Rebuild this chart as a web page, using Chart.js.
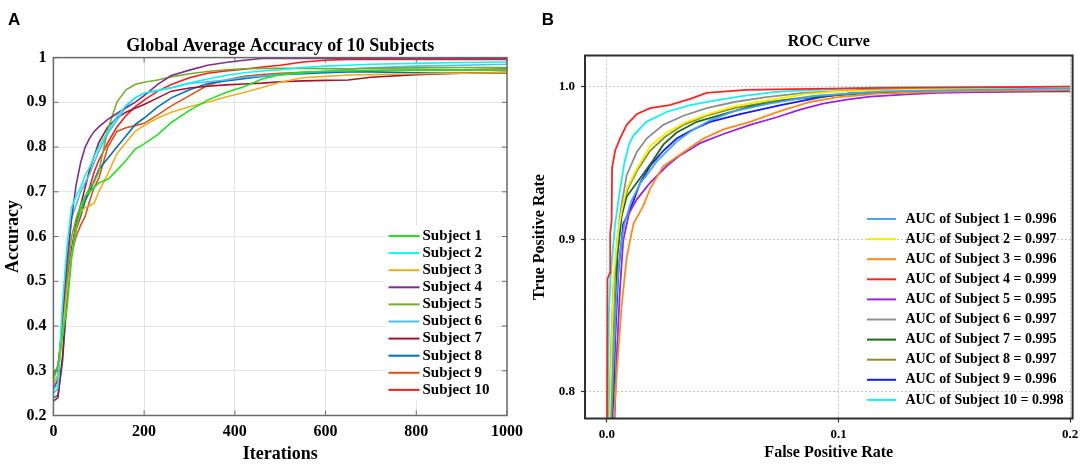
<!DOCTYPE html>
<html>
<head>
<meta charset="utf-8">
<script src="https://cdn.jsdelivr.net/npm/chart.js@4.4.1/dist/chart.umd.min.js"></script>
<style>
  html, body { margin: 0; padding: 0; background: #fff; }
  body { width: 1084px; height: 468px; position: relative; overflow: hidden; }
  canvas { position: absolute; top: 0; }
  #acc-graph { left: 0; }
  #roc-graph { left: 515px; }
</style>
</head>
<body>
<canvas id="acc-graph" width="530" height="468"></canvas>
<canvas id="roc-graph" width="569" height="468"></canvas>
<script>
// Panel A data -------------------------------------------------------------
const iterations = [0, 10, 20, 30, 40, 50, 60, 70, 80, 90, 100, 120, 140, 160, 180, 200,
  230, 260, 300, 340, 380, 420, 460, 500, 550, 600, 650, 700, 800, 900, 1000];

const subject1 = [.28, .31, .38, .44, .55, .62, .66, .69, .70, .71, .72, .728, .748, .77, .795, .807,
  .828, .855, .882, .905, .922, .935, .952, .962, .967, .969, .97, .971, .972, .972, .972];
const subject2 = [.257, .27, .45, .58, .665, .69, .71, .737, .755, .78, .80, .835, .868, .893, .91, .921,
  .927, .933, .943, .952, .96, .966, .97, .973, .978, .981, .983, .985, .987, .989, .99];
const subject3 = [.27, .29, .38, .48, .56, .62, .655, .665, .668, .675, .70, .74, .785, .81, .835, .848,
  .865, .878, .89, .90, .912, .922, .933, .945, .955, .958, .961, .962, .964, .965, .966];
const subject4 = [.26, .28, .42, .54, .64, .715, .765, .80, .82, .835, .845, .862, .875, .888, .9, .915,
  .94, .96, .972, .983, .989, .994, .998, .998, .998, .998, .998, .998, .998, .998, .998];
const subject5 = [.27, .29, .40, .52, .60, .64, .67, .69, .71, .722, .745, .84, .90, .928, .94, .945,
  .95, .957, .964, .969, .973, .975, .976, .976, .976, .975, .975, .976, .977, .978, .978];
const subject6 = [.25, .26, .42, .55, .64, .67, .70, .72, .74, .765, .79, .83, .86, .89, .91, .92,
  .926, .932, .942, .946, .95, .956, .959, .962, .966, .97, .974, .977, .981, .983, .985];
const subject7 = [.232, .24, .33, .47, .57, .63, .67, .71, .75, .78, .81, .845, .865, .878, .887, .895,
  .91, .925, .932, .936, .939, .941, .943, .946, .948, .949, .95, .956, .962, .965, .967];
const subject8 = [.24, .245, .32, .46, .56, .62, .65, .68, .70, .725, .75, .775, .80, .825, .85, .865,
  .89, .91, .928, .942, .948, .953, .958, .962, .964, .966, .968, .968, .966, .965, .965];
const subject9 = [.29, .31, .40, .50, .56, .60, .625, .645, .68, .71, .73, .80, .835, .843, .848, .853,
  .872, .892, .915, .938, .95, .958, .962, .965, .967, .968, .97, .971, .972, .973, .975];
const subject10 = [.29, .31, .40, .50, .57, .615, .645, .68, .71, .745, .77, .81, .845, .87, .89, .905,
  .925, .94, .955, .965, .97, .974, .979, .983, .99, .994, .996, .996, .996, .996, .996];

const accSeries = [subject1, subject2, subject3, subject4, subject5, subject6, subject7, subject8, subject9, subject10];
const subjectNames = ['Subject 1', 'Subject 2', 'Subject 3', 'Subject 4', 'Subject 5',
  'Subject 6', 'Subject 7', 'Subject 8', 'Subject 9', 'Subject 10'];
const accXTicks = [0, 200, 400, 600, 800, 1000];
const accYTicks = [0.2, 0.3, 0.4, 0.5, 0.6, 0.7, 0.8, 0.9, 1];
const accYLabels = ['0.2', '0.3', '0.4', '0.5', '0.6', '0.7', '0.8', '0.9', '1'];

// Panel B data: [false positive rate, true positive rate] ------------------
const roc1 = [[0.0018, 0.78], [0.0028, 0.82], [0.004, 0.86], [0.0055, 0.89], [0.0075, 0.91], [0.0105, 0.925],
  [0.0145, 0.937], [0.0171, 0.942], [0.0215, 0.951], [0.0301, 0.964], [0.0359, 0.9705], [0.0445, 0.978],
  [0.055, 0.984], [0.07, 0.989], [0.09, 0.994], [0.12, 0.997], [0.2, 0.999]];
const roc2 = [[0.0012, 0.78], [0.002, 0.83], [0.003, 0.878], [0.0049, 0.906], [0.0065, 0.92], [0.0085, 0.933],
  [0.0128, 0.946], [0.0186, 0.961], [0.0258, 0.97], [0.0344, 0.977], [0.0445, 0.9826], [0.0546, 0.987],
  [0.0647, 0.99], [0.085, 0.995], [0.1, 0.997], [0.13, 0.998], [0.2, 0.999]];
const roc3 = [[0.0028, 0.78], [0.0042, 0.812], [0.0063, 0.856], [0.0085, 0.888], [0.0114, 0.91], [0.0157, 0.922],
  [0.0186, 0.933], [0.0243, 0.948], [0.033, 0.957], [0.0416, 0.966], [0.0503, 0.972], [0.0618, 0.977],
  [0.0747, 0.984], [0.0877, 0.99], [0.0992, 0.993], [0.1165, 0.9955], [0.15, 0.997], [0.2, 0.998]];
const roc4 = [[0, 0.78], [0.0002, 0.874], [0.0013, 0.878], [0.0014, 0.904], [0.002, 0.912], [0.0022, 0.947],
  [0.0035, 0.958], [0.0056, 0.966], [0.0085, 0.975], [0.0128, 0.982], [0.0186, 0.986], [0.027, 0.988],
  [0.036, 0.992], [0.043, 0.996], [0.06, 0.998], [0.08, 0.9985], [0.12, 0.9993], [0.2, 1.0]];
const roc5 = [[0.0032, 0.78], [0.0042, 0.823], [0.0056, 0.867], [0.007, 0.899], [0.0095, 0.917], [0.0128, 0.926],
  [0.0186, 0.937], [0.0258, 0.948], [0.0315, 0.955], [0.0402, 0.963], [0.0503, 0.969], [0.0618, 0.975],
  [0.0733, 0.98], [0.0834, 0.985], [0.0933, 0.989], [0.1035, 0.9915], [0.1136, 0.9935], [0.1295, 0.995],
  [0.1425, 0.996], [0.161, 0.9965], [0.2, 0.9975]];
const roc6 = [[0.001, 0.78], [0.0018, 0.83], [0.0027, 0.867], [0.0042, 0.895], [0.006, 0.92], [0.0085, 0.942],
  [0.0128, 0.957], [0.0171, 0.966], [0.0243, 0.975], [0.033, 0.981], [0.043, 0.986], [0.055, 0.99],
  [0.068, 0.993], [0.085, 0.996], [0.11, 0.998], [0.2, 0.999]];
const roc7 = [[0.0016, 0.78], [0.0027, 0.801], [0.0035, 0.845], [0.0045, 0.889], [0.0063, 0.915], [0.0085, 0.928],
  [0.0143, 0.94], [0.02, 0.952], [0.0243, 0.962], [0.0301, 0.97], [0.0388, 0.977], [0.0503, 0.982],
  [0.0618, 0.987], [0.0762, 0.991], [0.095, 0.994], [0.12, 0.9965], [0.2, 0.997]];
const roc8 = [[0.0015, 0.78], [0.0022, 0.82], [0.0032, 0.87], [0.0045, 0.9], [0.0065, 0.92], [0.009, 0.933],
  [0.013, 0.945], [0.0186, 0.958], [0.025, 0.967], [0.033, 0.975], [0.043, 0.981], [0.055, 0.986],
  [0.07, 0.99], [0.09, 0.994], [0.12, 0.997], [0.2, 0.998]];
const roc9 = [[0.002, 0.78], [0.0027, 0.79], [0.0035, 0.834], [0.0049, 0.878], [0.007, 0.91], [0.0095, 0.918],
  [0.0114, 0.925], [0.0143, 0.937], [0.0186, 0.948], [0.0243, 0.958], [0.0301, 0.966], [0.0359, 0.971],
  [0.0445, 0.977], [0.0575, 0.982], [0.075, 0.988], [0.092, 0.993], [0.1035, 0.9955], [0.118, 0.997],
  [0.161, 0.998], [0.2, 0.9985]];
const roc10 = [[0.0004, 0.78], [0.0008, 0.85], [0.0015, 0.875], [0.0035, 0.91], [0.0056, 0.932], [0.0075, 0.95],
  [0.0095, 0.962], [0.0114, 0.968], [0.017, 0.977], [0.026, 0.9836], [0.036, 0.988], [0.047, 0.991],
  [0.059, 0.994], [0.073, 0.9967], [0.09, 0.998], [0.115, 0.9995], [0.2, 1.0]];

const rocSeries = [roc1, roc2, roc3, roc4, roc5, roc6, roc7, roc8, roc9, roc10];
const aucValues = ['0.996', '0.997', '0.996', '0.999', '0.995', '0.997', '0.995', '0.997', '0.996', '0.998'];
const rocXTicks = [0, 0.1, 0.2];
const rocYTicks = [0.8, 0.9, 1.0];

// Colours ------------------------------------------------------------------
const accColors = ['#22e022', '#10f4f4', '#edb120', '#7e2f8e', '#77ac30',
  '#4dbeee', '#a2142f', '#0072bd', '#d95319', '#ff1a1a'];
const rocColors = ['#44a4f8', '#f2f200', '#ff8a1c', '#ff2424', '#9b22e2',
  '#8e8e8e', '#1d6b1d', '#8e8e22', '#1717ff', '#12f2f2'];

const serif = 'Liberation Serif';

// Box, inner ticks, panel letter and legend --------------------------------
const panelDecor = {
  id: 'panelDecor',
  afterDraw(chart, args, opts) {
    const {ctx, chartArea: a} = chart;
    ctx.save();
    const lg = opts.legend;
    if (opts.legendBg) {
      ctx.fillStyle = '#fff';
      const n = chart.data.datasets.length;
      ctx.fillRect(lg.x - 3, lg.y - lg.step / 2 - 2, opts.legendBg, lg.step * n + 4);
    }
    ctx.font = lg.font;
    ctx.textBaseline = 'middle';
    ctx.textAlign = 'left';
    chart.data.datasets.forEach((ds, i) => {
      const y = lg.y + i * lg.step;
      ctx.strokeStyle = ds.borderColor;
      ctx.lineWidth = lg.lineWidth;
      ctx.beginPath();
      ctx.moveTo(lg.x, y);
      ctx.lineTo(lg.x + lg.len, y);
      ctx.stroke();
      ctx.fillStyle = '#000';
      ctx.fillText(ds.label, lg.x + lg.len + lg.gap, y);
    });

    ctx.strokeStyle = opts.boxColor;
    ctx.lineWidth = opts.boxWidth;
    ctx.strokeRect(a.left, a.top, a.right - a.left, a.bottom - a.top);

    if (opts.innerTicks) {
      ctx.lineWidth = 1;
      const t = opts.innerTicks;
      chart.scales.y.ticks.forEach(tk => {
        const y = chart.scales.y.getPixelForValue(tk.value);
        ctx.beginPath();
        ctx.moveTo(a.left, y); ctx.lineTo(a.left + t, y);
        ctx.moveTo(a.right, y); ctx.lineTo(a.right - t, y);
        ctx.stroke();
      });
      chart.scales.x.ticks.forEach(tk => {
        const x = chart.scales.x.getPixelForValue(tk.value);
        ctx.beginPath();
        ctx.moveTo(x, a.bottom); ctx.lineTo(x, a.bottom - t);
        ctx.moveTo(x, a.top); ctx.lineTo(x, a.top + t);
        ctx.stroke();
      });
    }

    ctx.fillStyle = '#000';
    ctx.font = 'bold 17px "Liberation Sans"';
    ctx.textBaseline = 'middle';
    ctx.fillText(opts.letter, opts.letterX, opts.letterY);
    ctx.restore();
  }
};

// Panel A -------------------------------------------------------------------
const accCtx = document.querySelector('#acc-graph').getContext('2d');
new Chart(accCtx, {
  type: 'line',
  data: {
    datasets: accSeries.map((vals, i) => ({
      label: subjectNames[i],
      data: iterations.map((it, k) => ({x: it, y: vals[k]})),
      borderColor: accColors[i],
      borderWidth: 1.6,
      pointRadius: 0,
      tension: 0,
      fill: false
    }))
  },
  options: {
    responsive: false,
    animation: false,
    events: [],
    layout: {padding: {left: 0, right: 22.5, top: 0, bottom: 0}},
    scales: {
      x: {
        type: 'linear',
        min: 0,
        max: 1000,
        afterFit: s => { s.height = 52.5; },
        afterBuildTicks: s => { s.ticks = accXTicks.map(v => ({value: v})); },
        ticks: {
          color: '#000',
          padding: 7,
          maxRotation: 0,
          font: {family: serif, size: 16, weight: 'bold'},
          callback: v => String(v)
        },
        grid: {color: '#e4e4e4', lineWidth: 1, drawTicks: false},
        border: {display: false},
        title: {
          display: true,
          text: 'Iterations',
          color: '#000',
          font: {family: serif, size: 18, weight: 'bold'},
          padding: {top: 0, bottom: 3}
        }
      },
      y: {
        min: 0.2,
        max: 1,
        afterFit: s => { s.width = 53.4; },
        afterBuildTicks: s => { s.ticks = accYTicks.map(v => ({value: v})); },
        ticks: {
          color: '#000',
          padding: 7,
          font: {family: serif, size: 16, weight: 'bold'},
          callback: (v, i) => accYLabels[i]
        },
        grid: {color: '#e4e4e4', lineWidth: 1, drawTicks: false},
        border: {display: false},
        title: {
          display: true,
          text: 'Accuracy',
          color: '#000',
          font: {family: serif, size: 18, weight: 'bold'},
          padding: {top: 3, bottom: 0}
        }
      }
    },
    plugins: {
      legend: {display: false},
      tooltip: {enabled: false},
      title: {
        display: true,
        fullSize: false,
        text: 'Global Average Accuracy of 10 Subjects',
        color: '#000',
        font: {family: serif, size: 18, weight: 'bold'},
        padding: {top: 36, bottom: 0}
      },
      panelDecor: {
        boxColor: '#6a6a6a',
        boxWidth: 1.5,
        innerTicks: 5,
        letter: 'A',
        letterX: 8,
        letterY: 20,
        legendBg: 110,
        legend: {x: 388.5, y: 236, step: 17.1, len: 31, gap: 3, lineWidth: 2,
          font: 'bold 15px "Liberation Serif"'}
      }
    }
  },
  plugins: [panelDecor]
});

// Panel B -------------------------------------------------------------------
const rocCtx = document.querySelector('#roc-graph').getContext('2d');
new Chart(rocCtx, {
  type: 'line',
  data: {
    datasets: rocSeries.map((pts, i) => ({
      label: 'AUC of Subject ' + (i + 1) + ' = ' + aucValues[i],
      data: pts.map(p => ({x: p[0], y: p[1]})),
      borderColor: rocColors[i],
      borderWidth: 1.8,
      pointRadius: 0,
      tension: 0,
      fill: false
    }))
  },
  options: {
    responsive: false,
    animation: false,
    events: [],
    layout: {padding: {left: 0, right: 11.4, top: 0, bottom: 0}},
    scales: {
      x: {
        type: 'linear',
        min: -0.0095,
        max: 0.2011,
        afterFit: s => { s.height = 49.5; },
        afterBuildTicks: s => { s.ticks = rocXTicks.map(v => ({value: v})); },
        ticks: {
          color: '#000',
          padding: 4,
          maxRotation: 0,
          font: {family: serif, size: 13, weight: 'bold'},
          callback: v => v.toFixed(1)
        },
        grid: {color: '#c4c4c4', lineWidth: 1, drawTicks: true, tickLength: 4,
          tickColor: '#333', tickWidth: 1.2, tickBorderDash: []},
        border: {display: false, dash: [2, 2]},
        title: {
          display: true,
          text: 'False Positive Rate',
          color: '#000',
          font: {family: serif, size: 16, weight: 'bold'},
          padding: {top: 0, bottom: 5.7}
        }
      },
      y: {
        min: 0.7824,
        max: 1.0205,
        afterFit: s => { s.width = 70; },
        afterBuildTicks: s => { s.ticks = rocYTicks.map(v => ({value: v})); },
        ticks: {
          color: '#000',
          padding: 6,
          font: {family: serif, size: 13, weight: 'bold'},
          callback: v => v.toFixed(1)
        },
        grid: {color: '#c4c4c4', lineWidth: 1, drawTicks: true, tickLength: 4,
          tickColor: '#333', tickWidth: 1.2, tickBorderDash: []},
        border: {display: false, dash: [2, 2]},
        title: {
          display: true,
          text: 'True Positive Rate',
          color: '#000',
          font: {family: serif, size: 16, weight: 'bold'},
          padding: {top: 15.4, bottom: 0}
        }
      }
    },
    plugins: {
      legend: {display: false},
      tooltip: {enabled: false},
      title: {
        display: true,
        fullSize: false,
        text: 'ROC Curve',
        color: '#000',
        font: {family: serif, size: 16, weight: 'bold'},
        padding: {top: 32.4, bottom: 3.9}
      },
      panelDecor: {
        boxColor: '#2e2e2e',
        boxWidth: 2,
        innerTicks: 0,
        letter: 'B',
        letterX: 26.7,
        letterY: 20,
        legendBg: 0,
        legend: {x: 352, y: 219, step: 20.1, len: 29, gap: 9.4, lineWidth: 2,
          font: 'bold 14px "Liberation Serif"'}
      }
    }
  },
  plugins: [panelDecor]
});
</script>
</body>
</html>
